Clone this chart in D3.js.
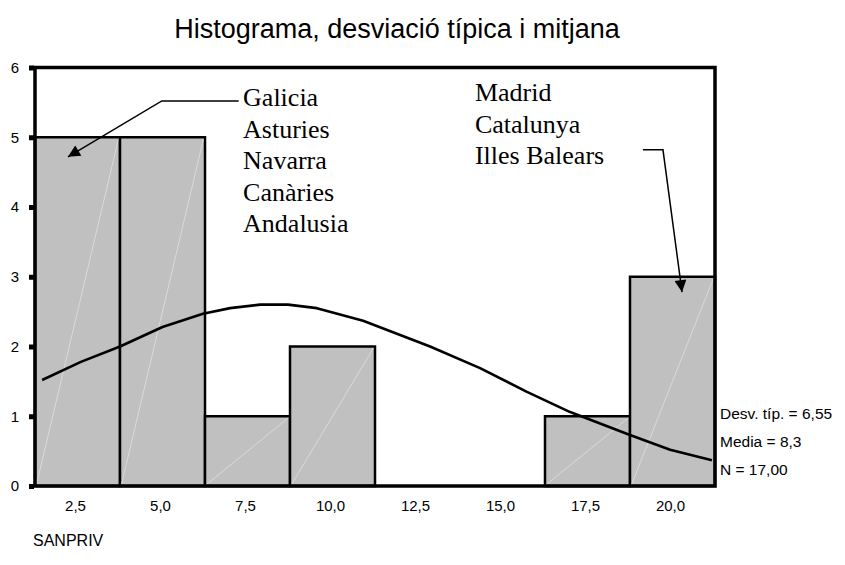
<!DOCTYPE html>
<html>
<head>
<meta charset="utf-8">
<script src="https://cdn.jsdelivr.net/npm/d3@7"></script>
<style>
  body { margin: 0; background: #fff; }
  text { font-family: "Liberation Sans", Arial, sans-serif; }
  .serif { font-family: "Liberation Serif", "Times New Roman", serif; }
</style>
</head>
<body>
<svg id="chart" width="845" height="565"></svg>
<script>
// bin centres and counts (width 2,5)
var binCenters = [2.5, 5.0, 7.5, 10.0, 12.5, 15.0, 17.5, 20.0];
var binCounts = [5, 5, 1, 2, 0, 0, 1, 3];
var binWidth = 2.5;

// normal curve
var curveX = [1.46, 2.6, 3.75, 5.0, 6.19, 6.99, 7.87, 8.69, 9.54, 10.9, 12.87, 14.34, 15.72, 16.99, 18.75, 19.93, 21.16];
var curveY = [1.52, 1.78, 2.0, 2.28, 2.47, 2.55, 2.6, 2.6, 2.55, 2.37, 2.0, 1.69, 1.35, 1.06, 0.73, 0.52, 0.37];

var yTicks = [0, 1, 2, 3, 4, 5, 6];
var statLines = ["Desv. típ. = 6,55", "Media = 8,3", "N = 17,00"];
var leftGroup = ["Galicia", "Asturies", "Navarra", "Canàries", "Andalusia"];
var rightGroup = ["Madrid", "Catalunya", "Illes Balears"];

var svg = d3.select("#chart");
var margin = { left: 35, right: 130, top: 67.5, bottom: 79 };
var W = 845, H = 565;

var x = d3.scaleLinear().domain([1.25, 21.25]).range([margin.left, W - margin.right]);
var y = d3.scaleLinear().domain([0, 6]).range([H - margin.bottom, margin.top]);

svg.append("text")
  .attr("x", 397).attr("y", 38)
  .attr("text-anchor", "middle")
  .attr("font-size", 27)
  .text("Histograma, desviació típica i mitjana");

var bins = binCenters.map(function (c, i) { return { c: c, n: binCounts[i] }; })
  .filter(function (d) { return d.n > 0; });

var bar = svg.append("g").selectAll("g").data(bins).enter().append("g");
bar.append("rect")
  .attr("x", function (d) { return x(d.c - binWidth / 2); })
  .attr("y", function (d) { return y(d.n); })
  .attr("width", function (d) { return x(d.c + binWidth / 2) - x(d.c - binWidth / 2); })
  .attr("height", function (d) { return y(0) - y(d.n); })
  .attr("fill", "#c0c0c0")
  .attr("stroke", "#000")
  .attr("stroke-width", 2.5);
// faint seam lines inside the bars
bar.append("line")
  .attr("x1", function (d) { return x(d.c - binWidth / 2) + 1.5; })
  .attr("y1", y(0) - 1.5)
  .attr("x2", function (d) { return x(d.c + binWidth / 2) - 1.5; })
  .attr("y2", function (d) { return y(d.n) + 1.5; })
  .attr("stroke", "#e4e4e4")
  .attr("stroke-width", 0.7);

var line = d3.line()
  .x(function (d) { return x(d[0]); })
  .y(function (d) { return y(d[1]); });
svg.append("path")
  .datum(curveX.map(function (v, i) { return [v, curveY[i]]; }))
  .attr("d", line)
  .attr("fill", "none")
  .attr("stroke", "#000")
  .attr("stroke-width", 2.6)
  .attr("stroke-linejoin", "round");

// frame
svg.append("rect")
  .attr("x", x(1.25)).attr("y", y(6))
  .attr("width", x(21.25) - x(1.25)).attr("height", y(0) - y(6))
  .attr("fill", "none").attr("stroke", "#000").attr("stroke-width", 3.5);

var yAxis = svg.append("g")
  .attr("transform", "translate(" + (margin.left - 1) + ",0)")
  .call(d3.axisLeft(y).tickValues(yTicks).tickSize(5).tickPadding(10).tickFormat(d3.format("d")));
yAxis.select(".domain").remove();
yAxis.selectAll(".tick line").attr("stroke-width", 5);
yAxis.selectAll("text").attr("font-size", 15).attr("font-family", "Liberation Sans, Arial, sans-serif");

var xAxis = svg.append("g")
  .attr("transform", "translate(-2.5," + y(0) + ")")
  .call(d3.axisBottom(x).tickValues(binCenters).tickSize(0).tickPadding(14)
    .tickFormat(function (d) { return d3.format(".1f")(d).replace(".", ","); }));
xAxis.select(".domain").remove();
xAxis.selectAll("text").attr("font-size", 15).attr("font-family", "Liberation Sans, Arial, sans-serif");

svg.append("text").attr("x", 33).attr("y", 546).attr("font-size", 16).text("SANPRIV");

svg.append("g").selectAll("text").data(statLines).enter().append("text")
  .attr("x", 720)
  .attr("y", function (d, i) { return 419 + i * 28; })
  .attr("font-size", 15.5)
  .text(function (d) { return d; });

// annotations
var ann = svg.append("g");
ann.selectAll(".l").data(leftGroup).enter().append("text")
  .attr("class", "serif")
  .attr("x", x(7.37))
  .attr("y", function (d, i) { return 106 + i * 31.5; })
  .attr("font-size", 26)
  .text(function (d) { return d; });
ann.selectAll(".r").data(rightGroup).enter().append("text")
  .attr("class", "serif")
  .attr("x", x(14.19))
  .attr("y", function (d, i) { return 101 + i * 31.5; })
  .attr("font-size", 26)
  .text(function (d) { return d; });

svg.append("defs").append("marker")
  .attr("id", "head").attr("viewBox", "0 0 10 10")
  .attr("refX", 10).attr("refY", 5)
  .attr("markerWidth", 17).attr("markerHeight", 12)
  .attr("markerUnits", "userSpaceOnUse")
  .attr("orient", "auto")
  .append("path").attr("d", "M0,0L10,5L0,10z").attr("fill", "#000");

var arrow = d3.line().x(function (d) { return x(d[0]); }).y(function (d) { return y(d[1]); });
svg.append("path")
  .datum([[7.24, 5.52], [4.98, 5.52], [2.22, 4.72]])
  .attr("d", arrow).attr("fill", "none").attr("stroke", "#000").attr("stroke-width", 1.5)
  .attr("marker-end", "url(#head)");
svg.append("path")
  .datum([[19.13, 4.82], [19.72, 4.82], [20.28, 2.78]])
  .attr("d", arrow).attr("fill", "none").attr("stroke", "#000").attr("stroke-width", 1.5)
  .attr("marker-end", "url(#head)");
</script>
</body>
</html>
